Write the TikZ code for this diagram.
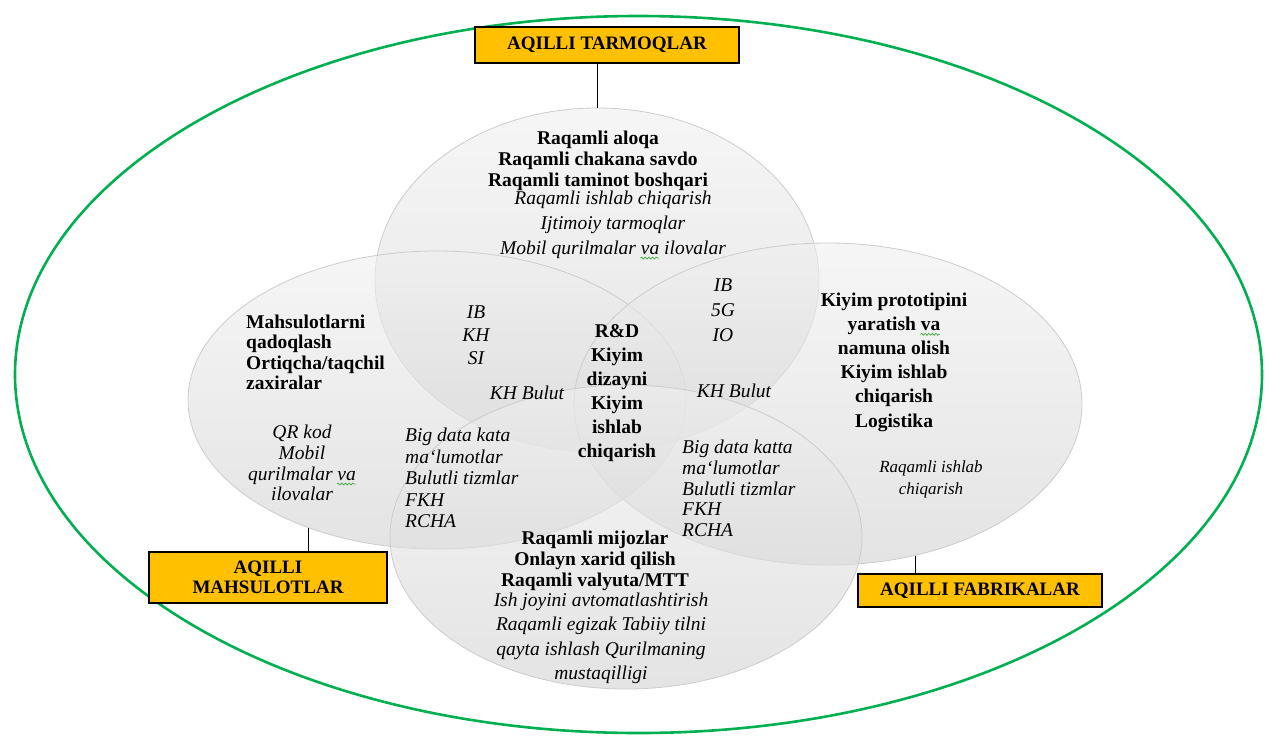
\documentclass[tikz,border=0pt]{standalone}
\usepackage{fontspec}
\setmainfont{Liberation Serif}
\usetikzlibrary{shapes.geometric,decorations.pathmorphing}
\definecolor{framegreen}{RGB}{0,176,80}
\definecolor{taggold}{RGB}{255,192,0}
\definecolor{spellgreen}{RGB}{60,170,60}
\newsavebox\spellbox
% word with a small green wavy underline
\newcommand\spellmark[1]{\sbox\spellbox{#1}\usebox\spellbox\llap{\tikz[baseline=0pt,x=1pt,y=1pt]\draw[spellgreen,line width=0.7pt,decorate,decoration={snake,amplitude=1pt,segment length=3.6pt}] (0,-4) -- (\wd\spellbox,-4);}}
\begin{document}
\begin{tikzpicture}[x=1pt,y=-1pt,
  bubble/.style={ellipse, inner sep=0pt, shade, top color=gray!12, bottom color=gray!36,
    fill opacity=0.6, draw=gray!40, line width=0.8pt},
  tag/.style={rectangle, draw=black, line width=2.8pt, fill=taggold, align=center,
    inner sep=0pt, font=\fontsize{19}{20}\selectfont\bfseries},
  boldtxt/.style={align=center, inner sep=0pt},
  slant/.style={align=center, inner sep=0pt},
  link/.style={draw=black, line width=1pt}
]
\path[use as bounding box] (0,0) rectangle (1269,737);

% outer frame
\node[ellipse, draw=framegreen, line width=2.6pt, minimum width=1247pt, minimum height=717pt, inner sep=0pt]
  (frame) at (638.5,374.5) {};

% the four overlapping areas
\node[bubble, minimum width=444pt, minimum height=344pt] (topb)   at (597,280) {};
\node[bubble, minimum width=498pt, minimum height=298pt] (leftb)  at (437,400) {};
\node[bubble, minimum width=508pt, minimum height=322pt] (rightb) at (828,404) {};
\node[bubble, minimum width=472pt, minimum height=304pt] (botb)   at (626,537) {};

% category tags
\node[tag, minimum width=264pt, minimum height=36pt] (toptag)   at (607,45) {AQILLI TARMOQLAR};
\node[tag, minimum width=238pt, minimum height=51pt] (lefttag)  at (268,577.5) {AQILLI\\MAHSULOTLAR};
\node[tag, minimum width=244pt, minimum height=33pt] (righttag) at (980,590.5) {AQILLI FABRIKALAR};

\draw[link] (topb.north |- toptag.south) -- (topb.north);
\draw[link] (leftb.225.9) -- (leftb.225.9 |- lefttag.north);
\draw[link] (rightb.300.2) -- (rightb.300.2 |- righttag.north);

% top area
\node[boldtxt, font=\fontsize{19.5}{21}\selectfont\bfseries] (t1) at (598,161)
  {Raqamli aloqa\\Raqamli chakana savdo\\Raqamli taminot boshqari};
\node[slant, font=\fontsize{19.5}{25}\selectfont\itshape] (t2) at (613,225)
  {Raqamli ishlab chiqarish\\Ijtimoiy tarmoqlar\\Mobil qurilmalar \spellmark{va} ilovalar};

% left area
\node[boldtxt, align=left, anchor=west, font=\fontsize{19.5}{20.5}\selectfont\bfseries] (l1) at (246,352.5)
  {Mahsulotlarni\\qadoqlash\\Ortiqcha/taqchil\\zaxiralar};
\node[slant, font=\fontsize{19.5}{20.7}\selectfont\itshape] (l2) at (302,463)
  {QR kod\\Mobil\\qurilmalar \spellmark{va}\\ilovalar};

% top-left overlap
\node[slant, font=\fontsize{19.5}{23}\selectfont\itshape] (tl1) at (476,335) {IB\\KH\\SI};
\node[slant, font=\fontsize{19.5}{21}\selectfont\itshape] (tl2) at (527,393) {KH Bulut};

% centre
\node[boldtxt, font=\fontsize{19.5}{24}\selectfont\bfseries] (c1) at (617,393)
  {R\&D\\Kiyim\\dizayni\\Kiyim\\ishlab\\chiqarish};

% left-bottom overlap
\node[slant, align=left, anchor=west, font=\fontsize{19.5}{21.5}\selectfont\itshape] (lb1) at (405,478)
  {Big data kata\\ma`lumotlar\\Bulutli tizmlar\\FKH\\RCHA};

% top-right overlap
\node[slant, font=\fontsize{19.5}{25}\selectfont\itshape] (tr1) at (723,310) {IB\\5G\\IO};
\node[slant, font=\fontsize{19.5}{21}\selectfont\itshape] (tr2) at (734,391) {KH Bulut};

% right area
\node[boldtxt, font=\fontsize{19.5}{24.2}\selectfont\bfseries] (r1) at (894,362)
  {Kiyim prototipini\\yaratish \spellmark{va}\\namuna olish\\Kiyim ishlab\\chiqarish\\Logistika};
\node[slant, font=\fontsize{17}{22}\selectfont\itshape] (r2) at (931,479)
  {Raqamli ishlab\\chiqarish};

% right-bottom overlap
\node[slant, align=left, anchor=west, font=\fontsize{19.5}{20.8}\selectfont\itshape] (rb1) at (682,488.5)
  {Big data katta\\ma`lumotlar\\Bulutli tizmlar\\FKH\\RCHA};

% bottom area
\node[boldtxt, font=\fontsize{19.5}{21}\selectfont\bfseries] (b1) at (595,561)
  {Raqamli mijozlar\\Onlayn xarid qilish\\Raqamli valyuta/MTT};
\node[slant, font=\fontsize{19.5}{24.5}\selectfont\itshape] (b2) at (601,638.5)
  {Ish joyini avtomatlashtirish\\Raqamli egizak Tabiiy tilni\\qayta ishlash Qurilmaning\\mustaqilligi};
\end{tikzpicture}
\end{document}
